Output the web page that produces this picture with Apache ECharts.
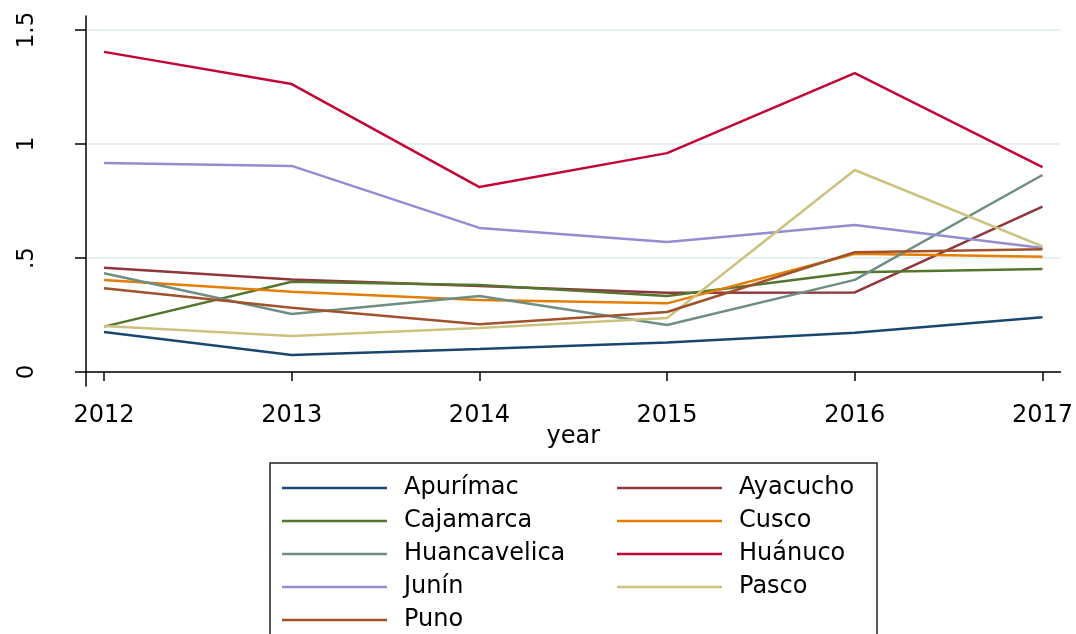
<!DOCTYPE html>
<html>
<head>
<meta charset="utf-8">
<script src="https://cdn.jsdelivr.net/npm/echarts@6/dist/echarts.min.js"></script>
<style>
  html, body { margin: 0; padding: 0; background: #fff; }
  #chart { width: 1076px; height: 634px; }
</style>
</head>
<body>
<div id="chart"></div>
<script>
const years = [2012, 2013, 2014, 2015, 2016, 2017]
const yTicks = [0, 0.5, 1, 1.5]

const apurimac = [0.175, 0.075, 0.101, 0.129, 0.172, 0.240]
const ayacucho = [0.457, 0.406, 0.377, 0.348, 0.349, 0.725]
const cajamarca = [0.199, 0.396, 0.382, 0.333, 0.437, 0.452]
const cusco = [0.404, 0.352, 0.316, 0.301, 0.519, 0.506]
const huancavelica = [0.433, 0.254, 0.333, 0.206, 0.404, 0.864]
const huanuco = [1.404, 1.263, 0.811, 0.960, 1.311, 0.899]
const junin = [0.917, 0.904, 0.632, 0.570, 0.645, 0.544]
const pasco = [0.202, 0.158, 0.193, 0.237, 0.886, 0.551]
const puno = [0.367, 0.282, 0.209, 0.263, 0.525, 0.538]

const regions = [
  { name: 'Apurímac', values: apurimac, color: '#1a476f' },
  { name: 'Ayacucho', values: ayacucho, color: '#90353b' },
  { name: 'Cajamarca', values: cajamarca, color: '#55752f' },
  { name: 'Cusco', values: cusco, color: '#e37e00' },
  { name: 'Huancavelica', values: huancavelica, color: '#6e8e84' },
  { name: 'Huánuco', values: huanuco, color: '#c10534' },
  { name: 'Junín', values: junin, color: '#938dd2' },
  { name: 'Pasco', values: pasco, color: '#cac27e' },
  { name: 'Puno', values: puno, color: '#a0522d' },
]

const font = 'DejaVu Sans, Liberation Sans, sans-serif'
const chart = echarts.init(document.getElementById('chart'))

const legendBase = {
  orient: 'vertical',
  icon: 'rect',
  itemWidth: 105,
  itemHeight: 2.5,
  itemGap: 9,
  padding: 0,
  top: 476,
  height: 200,
  selectedMode: false,
  textStyle: { fontFamily: font, fontSize: 24, color: '#000', lineHeight: 22, padding: [0, 0, 0, 12] },
}

chart.setOption({
  animation: false,
  backgroundColor: '#fff',
  grid: { left: 86, right: 14, top: 16, bottom: 248 },
  legend: [
    Object.assign({}, legendBase, { left: 282, data: ['Apurímac', 'Cajamarca', 'Huancavelica', 'Junín', 'Puno'] }),
    Object.assign({}, legendBase, { left: 617, data: ['Ayacucho', 'Cusco', 'Huánuco', 'Pasco'] }),
  ],
  graphic: [
    {
      type: 'rect',
      shape: { x: 270, y: 463, width: 607, height: 200 },
      style: { fill: 'none', stroke: '#222', lineWidth: 1.5 },
      silent: true,
    },
  ],
  xAxis: {
    type: 'value',
    min: 2011.904,
    max: 2017.096,
    name: 'year',
    nameLocation: 'middle',
    nameGap: 39,
    nameMoveOverlap: false,
    nameTextStyle: { fontFamily: font, fontSize: 24, color: '#000' },
    axisLine: { lineStyle: { color: '#000', width: 1.5 } },
    axisTick: { length: 9, customValues: years, lineStyle: { color: '#000', width: 1.5 } },
    axisLabel: {
      customValues: years,
      margin: 18,
      fontFamily: font,
      fontSize: 24,
      color: '#000',
      formatter: v => String(v),
    },
    splitLine: { show: false },
  },
  yAxis: {
    type: 'value',
    min: -0.0614,
    max: 1.5614,
    axisLine: { show: true, lineStyle: { color: '#000', width: 1.5 } },
    axisTick: { show: true, length: 11, customValues: yTicks, lineStyle: { color: '#000', width: 1.5 } },
    axisLabel: {
      customValues: yTicks,
      rotate: 90,
      margin: 47,
      fontFamily: font,
      fontSize: 23,
      color: '#000',
      formatter: v => (v === 0 ? '0' : String(v).replace(/^0\./, '.')),
    },
    splitLine: { show: true, lineStyle: { color: '#e6eff2', width: 2 } },
  },
  series: regions.map(r => ({
    name: r.name,
    type: 'line',
    data: years.map((y, i) => [y, r.values[i]]),
    symbol: 'none',
    color: r.color,
    lineStyle: { color: r.color, width: 2.5 },
  })),
})
</script>
</body>
</html>
